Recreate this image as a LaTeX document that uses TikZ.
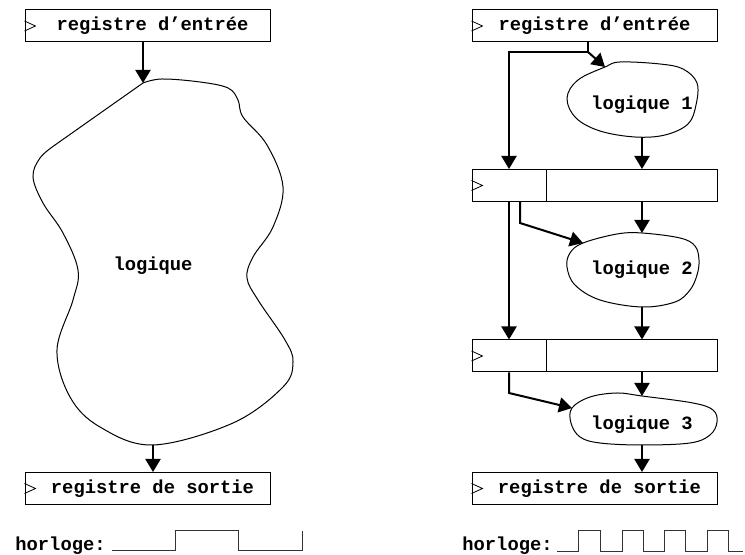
\documentclass[tikz,border=0pt]{standalone}
\usepackage{fontspec}
\setmonofont{Liberation Mono}
\usetikzlibrary{arrows.meta,calc}
\begin{document}
\begin{tikzpicture}[x=0.5pt,y=-0.5pt,
  lbl/.style={font=\ttfamily\bfseries\fontsize{9.4}{11}\selectfont, inner sep=0pt},
  reg/.style={draw, line width=0.5pt, minimum width=122.5pt, minimum height=16pt, inner sep=0pt,
    font=\ttfamily\bfseries\fontsize{9.4}{11}\selectfont},
  conn/.style={line width=1pt, -{Triangle[length=6.5pt,width=7.5pt]}},
  wire/.style={line width=1pt},
  blob/.style={line width=0.5pt},
  clk/.style={line width=0.5pt, black!80},
  ff/.style={line width=0.4pt}]
\useasboundingbox (0,0) rectangle (745,555);

% registers
\node[reg] (inL) at (147.5,26) {\hspace*{5pt}registre d’entrée};
\node[reg] (outL) at (147.5,488.5) {\hspace*{5pt}registre de sortie};
\node[reg] (inR) at (594.5,26) {registre d’entrée};
\node[reg] (r1) at (594.5,185.5) {};
\node[reg] (r2) at (594.5,356) {};
\node[reg] (outR) at (594.5,488.5) {\hspace*{5pt}registre de sortie};
\foreach \n in {inL,outL,inR,r1,r2,outR}
  \draw[ff] ($(\n.west)+(0,-5)$) -- ++(11,5) -- ++(-11,5);
\foreach \n in {r1,r2}
  \draw[line width=0.5pt] ($(\n.north west)+(75,0)$) -- ($(\n.south west)+(75,0)$);

% big blob
\draw[blob] plot[smooth, tension=0.6] coordinates {(143,83) (162,79) (200,82) (228,88) (238,100) (243,117)
  (267,145) (283,187) (273,227) (253,257) (247,278) (258,300) (285,340) (293,362) (283,387)
  (233,423) (153,445) (100,427) (70,397) (57,350) (73,300) (78,270) (63,233) (43,203) (33,177)
  (40,158) (55,145)} -- cycle;
\coordinate (bTop) at (143,83);
\coordinate (bBot) at (153,445);
\node[lbl] (logL) at (153,266) {logique};
\draw[conn] (inL.south -| bTop) -- (bTop);
\draw[conn] (bBot) -- (bBot |- outL.north);

% right blobs
\draw[blob] plot[smooth cycle, tension=0.6] coordinates {(605,67) (620,62) (660,64) (683,69) (697,83)
  (696,105) (688,124) (665,135) (635,137) (600,131) (576,118) (567,98) (578,80)};
\node[lbl] (log1) at (642,105) {logique 1};
\draw[blob] plot[smooth cycle, tension=0.6] coordinates {(583,243) (617,234) (642,233) (680,238) (695,246)
  (699,260) (697,275) (690,290) (675,302) (642,307) (600,300) (575,285) (567,267) (570,253)};
\node[lbl] (log2) at (642,270) {logique 2};
\draw[blob] plot[smooth cycle, tension=0.6] coordinates {(572,408) (590,397) (617,393) (642,396) (693,403)
  (713,410) (717,422) (710,435) (690,443) (642,445) (600,443) (580,437) (571,423)};
\node[lbl] (log3) at (642,425) {logique 3};

\coordinate (t1) at (605,67);
\coordinate (b1) at (642,137);
\coordinate (t2) at (642,233);
\coordinate (a2) at (583,243);
\coordinate (b2) at (642,307);
\coordinate (t3) at (642,396);
\coordinate (a3) at (572,408);
\coordinate (b3) at (642,445);
\coordinate (j0) at (588,52);
\coordinate (k0) at (509,52);
\coordinate (k1) at (520,223);
\coordinate (k2) at (509,393);

\draw[conn] (inR.south -| j0) -- (j0) -- (k0) -- (k0 |- r1.north);
\draw[conn] (j0) -- (t1);
\draw[conn] (b1) -- (b1 |- r1.north);
\draw[conn] (r1.south -| k0) -- (r2.north -| k0);
\draw[conn] (r1.south -| k1) -- (k1) -- (a2);
\draw[conn] (r1.south -| t2) -- (t2);
\draw[conn] (b2) -- (b2 |- r2.north);
\draw[conn] (r2.south -| k2) -- (k2) -- (a3);
\draw[conn] (r2.south -| t3) -- (t3);
\draw[conn] (b3) -- (b3 |- outR.north);

% clocks
\node[lbl, anchor=base west] (hL) at (15,551) {horloge:};
\draw[clk] (112,551) -- (175,551) -- (175,531) -- (238,531) -- (238,551) -- (302,551) -- (302,531);
\node[lbl, anchor=base west] (hR) at (462,551) {horloge:};
\draw[clk] (557,552) -- (578,552) -- (578,531) -- (600,531) -- (600,552) -- (622,552) -- (622,531)
  -- (643,531) -- (643,552) -- (664,552) -- (664,531) -- (685,531) -- (685,552) -- (707,552)
  -- (707,531) -- (728,531) -- (728,552) -- (743,552);
\end{tikzpicture}
\end{document}
